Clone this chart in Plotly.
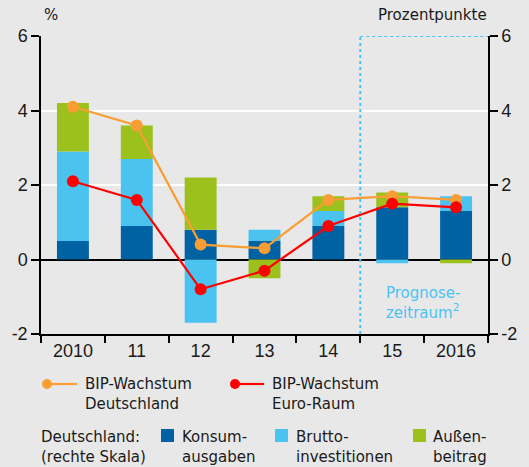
import plotly.graph_objects as go

years = ["2010", "11", "12", "13", "14", "15", "2016"]
konsum = [0.5, 0.9, 0.8, 0.5, 0.9, 1.4, 1.3]
brutto = [2.4, 1.8, -1.7, 0.3, 0.4, -0.1, 0.4]
aussen = [1.3, 0.9, 1.4, -0.5, 0.4, 0.4, -0.1]
bip_de = [4.1, 3.6, 0.4, 0.3, 1.6, 1.7, 1.6]
bip_euro = [2.1, 1.6, -0.8, -0.3, 0.9, 1.5, 1.4]
y_ticks = [-2, 0, 2, 4, 6]
y_tick_labels = ["-2", "0", "2", "4", "6"]

C_KONSUM = "#0062A2"
C_BRUTTO = "#4BC3F1"
C_AUSSEN = "#9DC11C"
C_DE = "#F99D35"
C_EURO = "#FF0000"
BG = "#E8E8E8"
FONT = "Liberation Sans"
TFONT = "DejaVu Sans"

W, H = 529, 467
L, R, T, B = 41, 488, 36, 334

def px(x):
    return (x - L) / (R - L)

def py(y):
    return (B - y) / (B - T)

fig = go.Figure()
for name, vals, col in [("Konsumausgaben", konsum, C_KONSUM),
                        ("Bruttoinvestitionen", brutto, C_BRUTTO),
                        ("Außenbeitrag", aussen, C_AUSSEN)]:
    fig.add_trace(go.Bar(x=years, y=vals, name=name, marker=dict(color=col, line=dict(width=0)),
                         width=0.5, yaxis="y", showlegend=False))

for name, vals, col in [("BIP-Wachstum Deutschland", bip_de, C_DE),
                        ("BIP-Wachstum Euro-Raum", bip_euro, C_EURO)]:
    fig.add_trace(go.Scatter(x=years, y=vals, name=name, mode="lines+markers",
                             line=dict(color=col, width=2.2),
                             marker=dict(color=col, size=12),
                             yaxis="y2", showlegend=False))

shapes = []
# forecast box (dotted)
shapes.append(dict(type="line", xref="x", yref="y", x0=4.5, x1=4.5, y0=-2, y1=6,
                   line=dict(color="#4BC3F1", width=2, dash="dot")))
shapes.append(dict(type="line", xref="x", yref="y", x0=4.5, x1=6.5, y0=6, y1=6,
                   line=dict(color="#4BC3F1", width=2, dash="dot")))

# legend symbols
ly1 = 384
shapes.append(dict(type="line", xref="paper", yref="paper", x0=px(47), x1=px(77), y0=py(ly1), y1=py(ly1),
                   line=dict(color=C_DE, width=2.2)))
shapes.append(dict(type="circle", xref="paper", yref="paper", x0=px(42), x1=px(52), y0=py(ly1 + 5), y1=py(ly1 - 5),
                   fillcolor=C_DE, line=dict(width=0)))
shapes.append(dict(type="line", xref="paper", yref="paper", x0=px(235), x1=px(264), y0=py(ly1), y1=py(ly1),
                   line=dict(color=C_EURO, width=2.2)))
shapes.append(dict(type="circle", xref="paper", yref="paper", x0=px(230), x1=px(240), y0=py(ly1 + 5), y1=py(ly1 - 5),
                   fillcolor=C_EURO, line=dict(width=0)))
for x0, col in [(161, C_KONSUM), (275, C_BRUTTO), (413, C_AUSSEN)]:
    shapes.append(dict(type="rect", xref="paper", yref="paper", x0=px(x0), x1=px(x0 + 13),
                       y0=py(442), y1=py(429), fillcolor=col, line=dict(width=0)))

ann = []
def text(x, y, s, size=15, color="#1a1a1a", xanchor="left"):
    ann.append(dict(xref="paper", yref="paper", x=px(x), y=py(y), text=s, showarrow=False,
                    xanchor=xanchor, yanchor="middle", align="left",
                    font=dict(family=TFONT, size=size, color=color)))

text(83, 394, "BIP-Wachstum<br>Deutschland")
text(270, 394, "BIP-Wachstum<br>Euro-Raum")
text(39, 447, "Deutschland:<br>(rechte Skala)")
text(180, 447, "Konsum-<br>ausgaben")
text(294, 447, "Brutto-<br>investitionen")
text(431, 447, "Außen-<br>beitrag")
text(384, 303, "Prognose-<br>zeitraum<sup>2</sup>", color="#4BC3F1")
text(42, 15, "%")
text(489, 15, "Prozentpunkte", xanchor="right")

axis_common = dict(range=[-2, 6], tickvals=y_ticks, ticktext=y_tick_labels, ticks="outside",
                   ticklen=8, tickwidth=1.5, automargin=False,
                   tickcolor="black", showline=True, linecolor="black", linewidth=1.5,
                   tickfont=dict(family=FONT, size=18, color="#1a1a1a"), fixedrange=True)

fig.update_layout(
    width=W, height=H,
    margin=dict(l=L, r=W - R, t=T, b=H - B, autoexpand=False),
    paper_bgcolor=BG, plot_bgcolor=BG,
    barmode="relative", bargap=0.5,
    xaxis=dict(type="category", tickson="boundaries", ticks="outside", ticklen=7, tickwidth=1.5,
               tickcolor="black", showline=True, linecolor="black", linewidth=1.5, showgrid=False,
               automargin=False, fixedrange=True,
               range=[-0.5, 6.5], tickfont=dict(family=FONT, size=18, color="#1a1a1a")),
    yaxis=dict(side="right", showgrid=True, gridcolor="white", gridwidth=2,
               zeroline=True, zerolinecolor="black", zerolinewidth=1.5, **axis_common),
    yaxis2=dict(side="left", overlaying="y", showgrid=False, zeroline=False, **axis_common),
    shapes=shapes, annotations=ann,
    font=dict(family=FONT),
)

fig.write_html("out.html", config={"displayModeBar": False},
               post_script="document.body.style.margin='0';document.body.style.background='#E8E8E8';")
